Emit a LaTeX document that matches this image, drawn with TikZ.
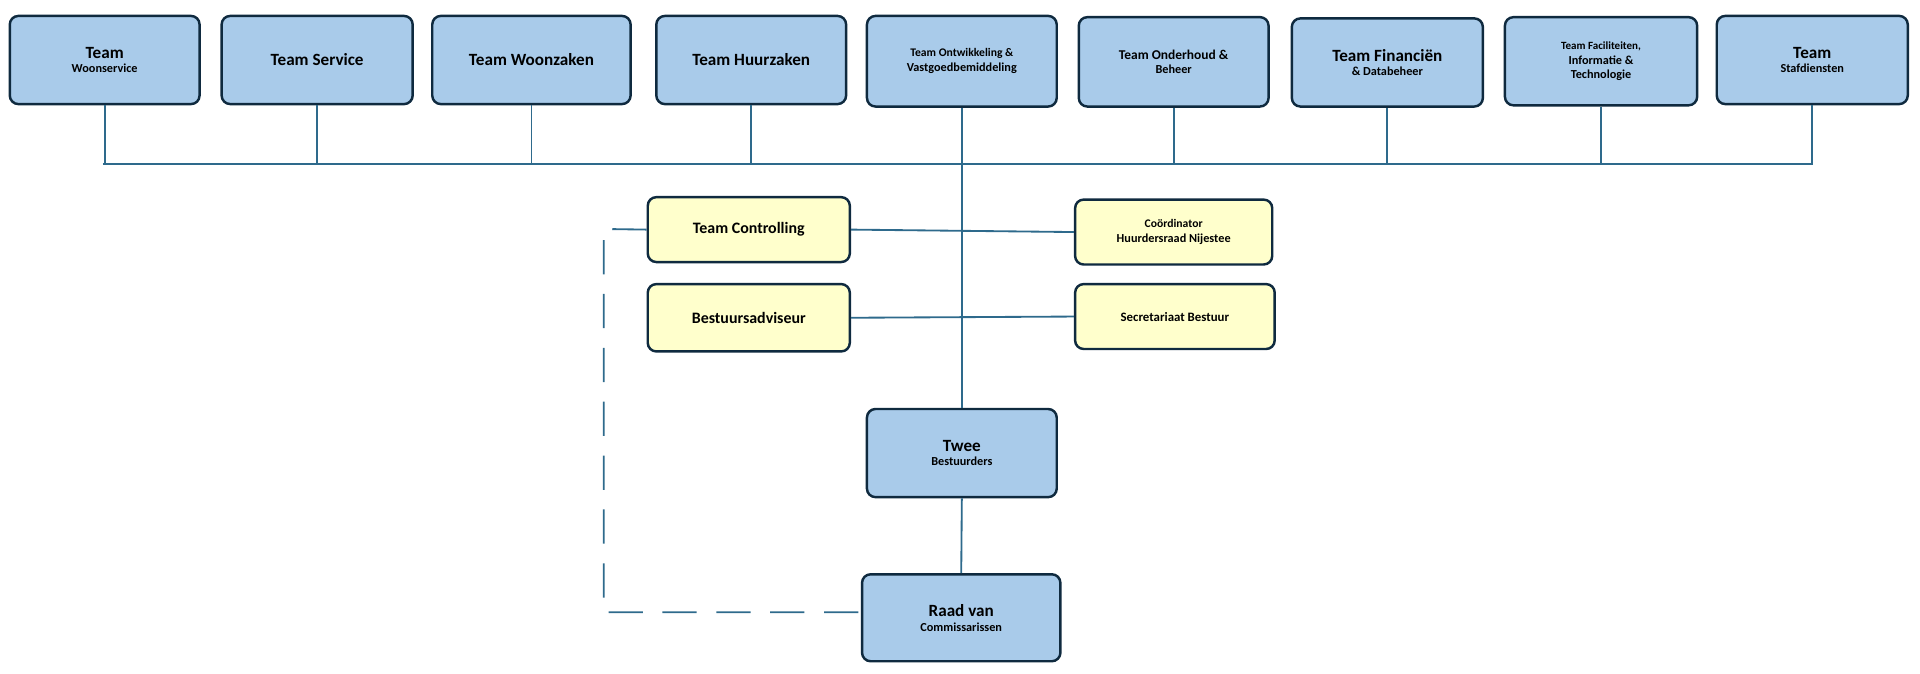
\documentclass[tikz,border=0pt]{standalone}
\usepackage{fontspec}
\setmainfont{Carlito}
\begin{document}
\begin{tikzpicture}[x=1pt,y=-1pt,
  box/.style={draw=navy,line width=2pt,rounded corners=7pt,fill=bluef,align=center,font=\bfseries,inner sep=0pt,anchor=north west},
  ybox/.style={box,fill=yelf},
  ln/.style={draw=linec,line width=1.5pt}]
\definecolor{navy}{HTML}{0F2A3F}
\definecolor{bluef}{HTML}{A9CBEA}
\definecolor{yelf}{HTML}{FFFFCC}
\definecolor{linec}{HTML}{2E6A8C}
\useasboundingbox (0,0) rectangle (1568,550);
\newcommand{\bx}[6]{\node[#1,minimum width=#4pt,minimum height=#5pt] (#2) at #3 {#6};}
\bx{box}{t1}{(7,12)}{155}{72}{\fontsize{14}{20}\selectfont Team\\Woonservice}
\bx{box}{t2}{(180,12)}{156}{72}{\fontsize{14}{20}\selectfont Team Service}
\bx{box}{t3}{(352,12)}{162}{72}{\fontsize{14}{20}\selectfont Team Woonzaken}
\bx{box}{t4}{(535,12)}{155}{72}{\fontsize{14}{20}\selectfont Team Huurzaken}
\bx{box}{t5}{(707,12)}{155}{74}{\fontsize{9.5}{19}\selectfont Team Ontwikkeling \&\\Vastgoedbemiddeling}
\bx{box}{t6}{(880,13)}{155}{73}{\fontsize{11}{21}\selectfont Team Onderhoud \&\\Beheer}
\bx{box}{t7}{(1054,14)}{156}{72}{\fontsize{14}{22}\selectfont Team Financiën\\\& Databeheer}
\bx{box}{t8}{(1228,13)}{157}{72}{\fontsize{9}{18}\selectfont Team Faciliteiten,\\Informatie \&\\Technologie}
\bx{box}{t9}{(1401,12)}{156}{72}{\fontsize{14}{22}\selectfont Team\\Stafdiensten}
\bx{ybox}{tc}{(528,160)}{165}{53}{\fontsize{13}{16}\selectfont Team Controlling}
\bx{ybox}{co}{(877,162)}{161}{53}{\fontsize{9.5}{16}\selectfont Coördinator\\Huurdersraad Nijestee}
\bx{ybox}{ba}{(528,231)}{165}{55}{\fontsize{13}{16}\selectfont Bestuursadviseur}
\bx{ybox}{sb}{(877,231)}{163}{53}{\fontsize{10.5}{16}\selectfont Secretariaat Bestuur}
\bx{box}{tb}{(707,333)}{155}{72}{\fontsize{14}{22}\selectfont Twee\\Bestuurders}
\bx{box}{rc}{(703,468)}{162}{71}{\fontsize{14}{22}\selectfont Raad van\\Commissarissen}
\coordinate (bl) at (84,134);
\coordinate (br) at (1481,134);
\draw[ln] (bl) -- (br);
\foreach \n in {t1,t2,t3,t4,t6,t7,t8,t9} \draw[ln] (\n.south) -- (\n.south |- bl);
\draw[ln] (t5.south) -- (tb.north);
\draw[ln] (tb.south) -- (rc.north);
\draw[ln] (tc.east) -- (co.west);
\draw[ln] (ba.east) -- (sb.west);
\coordinate (d1) at (493,187);
\coordinate (d2) at (493,500);
\draw[ln,dash pattern=on 28pt off 16pt] (tc.west) -- (d1) -- (d2) -- (rc.west |- d2);
\end{tikzpicture}
\end{document}
